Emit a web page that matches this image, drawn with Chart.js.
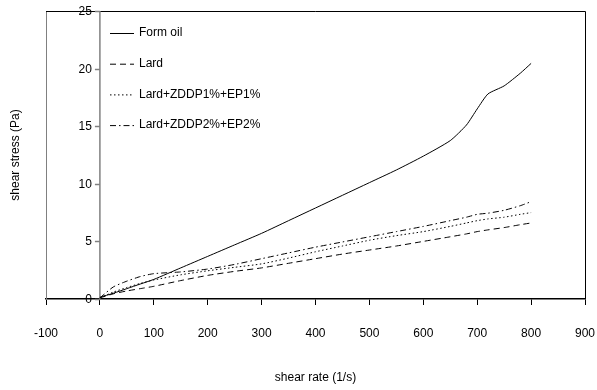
<!DOCTYPE html>
<html lang="en">
<head>
    <meta charset="UTF-8">
    <title>Shear stress vs shear rate</title>
    <style>
        body { margin: 0; background: #fff; }
        #wrap { width: 597px; height: 390px; }
    </style>
</head>
<body>
    <div id="wrap">
        <canvas id="myChart" width="597" height="390"></canvas>
    </div>

    <script src="https://cdn.jsdelivr.net/npm/chart.js"></script>

    <script>
        // shear rate (1/s) sampled for every curve
        const shearRate = [0, 25, 50, 75, 100, 150, 200, 250, 300, 350, 400, 450, 500, 550, 600, 650, 680, 700, 720, 750, 780, 800];

        // shear stress (Pa)
        const formOil   = [0.15, 0.5, 0.9, 1.3, 1.7, 2.7, 3.7, 4.7, 5.7, 6.8, 7.9, 9.0, 10.1, 11.2, 12.4, 13.75, 15.1, 16.5, 17.8, 18.5, 19.6, 20.45];
        const lard      = [0.1, 0.45, 0.7, 0.9, 1.1, 1.6, 2.05, 2.4, 2.7, 3.1, 3.5, 3.9, 4.25, 4.6, 5.0, 5.4, 5.65, 5.85, 6.0, 6.2, 6.45, 6.6];
        const lardZddp1 = [0.1, 0.6, 1.0, 1.35, 1.65, 2.1, 2.45, 2.75, 3.05, 3.55, 4.1, 4.6, 5.1, 5.5, 5.85, 6.3, 6.6, 6.8, 6.95, 7.1, 7.35, 7.5];
        const lardZddp2 = [0.1, 1.05, 1.55, 1.95, 2.2, 2.35, 2.6, 3.0, 3.5, 4.0, 4.5, 4.95, 5.4, 5.85, 6.3, 6.8, 7.1, 7.35, 7.45, 7.7, 8.1, 8.45];

        const seriesNames = ['Form oil', 'Lard', 'Lard+ZDDP1%+EP1%', 'Lard+ZDDP2%+EP2%'];

        const xMin = -100, xMax = 900, xStep = 100;
        const yMin = 0, yMax = 25, yStep = 5;

        const FONT = 'Arial, "Liberation Sans", sans-serif';

        function points(values) {
            return shearRate.map((x, i) => ({ x: x, y: values[i] }));
        }

        function line(label, values, dash) {
            return {
                label: label,
                data: points(values),
                borderColor: '#000',
                borderWidth: 1,
                borderDash: dash,
                pointRadius: 0,
                tension: 0.2,
                fill: false
            };
        }

        // y axis crosses at x = 0, with its own ticks and labels
        const axisAtZero = {
            id: 'axisAtZero',
            beforeDatasetsDraw(chart) {
                const { ctx, chartArea, scales: { x, y } } = chart;
                const x0 = x.getPixelForValue(0);
                ctx.save();
                // frame: top and right edges
                ctx.strokeStyle = '#000';
                ctx.lineWidth = 1;
                ctx.beginPath();
                ctx.moveTo(chartArea.left, chartArea.top + 0.5);
                ctx.lineTo(chartArea.right + 0.5, chartArea.top + 0.5);
                ctx.lineTo(chartArea.right + 0.5, chartArea.bottom);
                ctx.stroke();

                ctx.strokeStyle = '#808080';
                ctx.lineWidth = 1.5;
                ctx.beginPath();
                ctx.moveTo(x0, chartArea.top);
                ctx.lineTo(x0, chartArea.bottom);
                ctx.stroke();

                ctx.font = '12px ' + FONT;
                ctx.fillStyle = '#000';
                ctx.textAlign = 'right';
                ctx.textBaseline = 'middle';
                y.ticks.forEach(t => {
                    const py = Math.round(y.getPixelForValue(t.value)) + 0.5;
                    ctx.beginPath();
                    ctx.moveTo(x0 - 5, py);
                    ctx.lineTo(x0, py);
                    ctx.stroke();
                    ctx.fillText(String(t.value), x0 - 8, py);
                });
                ctx.restore();
            }
        };

        // legend in the upper left of the plot
        const innerLegend = {
            id: 'innerLegend',
            afterDatasetsDraw(chart) {
                const { ctx, chartArea } = chart;
                const left = chartArea.left + 64;
                let top = chartArea.top + 22;
                ctx.save();
                ctx.font = '12px ' + FONT;
                ctx.fillStyle = '#000';
                ctx.textAlign = 'left';
                ctx.textBaseline = 'middle';
                chart.data.datasets.forEach(ds => {
                    ctx.strokeStyle = ds.borderColor;
                    ctx.lineWidth = ds.borderWidth;
                    ctx.setLineDash(ds.borderDash || []);
                    ctx.beginPath();
                    ctx.moveTo(left, top + 0.5);
                    ctx.lineTo(left + 24, top + 0.5);
                    ctx.stroke();
                    ctx.setLineDash([]);
                    ctx.fillText(ds.label, left + 29, top);
                    top += 30.7;
                });
                ctx.restore();
            }
        };

        new Chart(document.getElementById('myChart'), {
            type: 'line',
            data: {
                datasets: [
                    line(seriesNames[0], formOil, []),
                    line(seriesNames[1], lard, [6, 4]),
                    line(seriesNames[2], lardZddp1, [1.5, 2.5]),
                    line(seriesNames[3], lardZddp2, [6, 3, 1.5, 3])
                ]
            },
            options: {
                responsive: false,
                animation: false,
                layout: { padding: { left: 4, top: 11, right: 12, bottom: 0 } },
                plugins: {
                    legend: { display: false },
                    tooltip: { enabled: false }
                },
                scales: {
                    x: {
                        type: 'linear',
                        min: xMin,
                        max: xMax,
                        afterFit(scale) {
                            scale.height = 91;
                            scale.paddingLeft = 0;
                            scale.paddingRight = 0;
                        },
                        ticks: {
                            stepSize: xStep,
                            padding: 21,
                            color: '#000',
                            font: { family: FONT, size: 12 }
                        },
                        grid: { drawOnChartArea: false, tickLength: 6, color: '#000' },
                        border: { color: '#000', width: 1.5 },
                        title: {
                            display: true,
                            text: 'shear rate (1/s)',
                            color: '#000',
                            font: { family: FONT, size: 12 },
                            padding: { top: 0, bottom: 5 }
                        }
                    },
                    y: {
                        type: 'linear',
                        min: yMin,
                        max: yMax,
                        afterFit(scale) { scale.width = 42; },
                        ticks: { stepSize: yStep, display: false },
                        grid: { drawOnChartArea: false, drawTicks: false },
                        border: { color: '#808080', width: 1 },
                        title: {
                            display: true,
                            text: 'shear stress (Pa)',
                            color: '#000',
                            font: { family: FONT, size: 12 },
                            padding: { top: 4, bottom: 4 }
                        }
                    }
                }
            },
            plugins: [axisAtZero, innerLegend]
        });
    </script>
</body>
</html>
